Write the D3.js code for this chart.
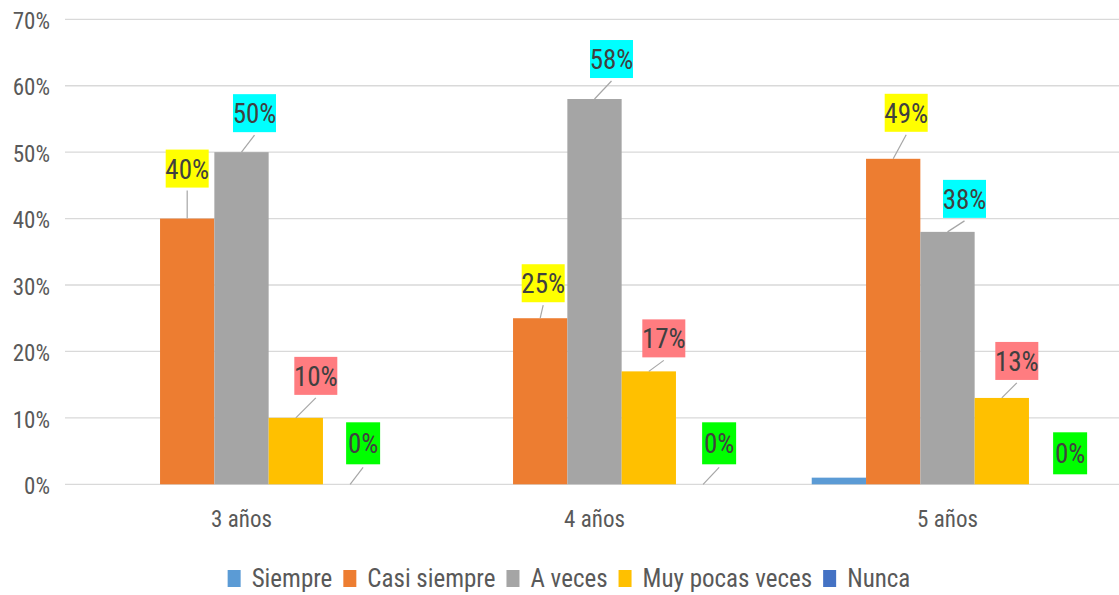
<!DOCTYPE html>
<html>
<head>
<meta charset="utf-8">
<script src="https://cdn.jsdelivr.net/npm/d3@7"></script>
<style>
  body { margin: 0; background: #fff; }
  text { font-family: "Liberation Sans Narrow", "Roboto Condensed", Roboto, sans-serif; }
</style>
</head>
<body>
<div id="chart"></div>
<script>
// data
var categories = ["3 años", "4 años", "5 años"];
var seriesNames = ["Siempre", "Casi siempre", "A veces", "Muy pocas veces", "Nunca"];
var siempre     = [0, 0, 1];
var casiSiempre = [40, 25, 49];
var aVeces      = [50, 58, 38];
var muyPocas    = [10, 17, 13];
var nunca       = [0, 0, 0];
var yTicks = [0, 10, 20, 30, 40, 50, 60, 70];

// which series get a callout label (Siempre has none)
var showLabel = [false, true, true, true, true];

// styles
var barColors   = ["#5B9BD5", "#ED7D31", "#A5A5A5", "#FFC000", "#4472C4"];
var labelFills  = [null, "#FFFF00", "#00FFFF", "#FF7C80", "#00FF00"];

// hand placed callouts: [dx from bar centre, rise of box bottom above bar top]
var labelNudge = [
  [null, [0, 31], [13, 20], [20, 23], [13, 20]],
  [null, [3, 16], [17, 21], [15, 14], [16, 20]],
  [null, [13, 27], [17, 14], [15, 18], [14, 10]]
];

var allSeries = [siempre, casiSiempre, aVeces, muyPocas, nunca];

var W = 1119, H = 595;
var plotLeft = 65, plotRight = 1124, plotTop = 19.3, plotBottom = 484.3;

var svg = d3.select("#chart")
  .append("svg")
    .attr("width", W)
    .attr("height", H);

var x0 = d3.scaleBand()
  .domain(categories)
  .range([plotLeft, plotRight])
  .padding(0);

// gap width of 150% between groups
var groupW = x0.bandwidth() * 5 / 6.5;
var x1 = d3.scaleBand()
  .domain(seriesNames)
  .range([0, groupW])
  .padding(0);

var y = d3.scaleLinear()
  .domain([0, 70])
  .range([plotBottom, plotTop]);

// gridlines
svg.append("g")
  .selectAll("line")
  .data(yTicks)
  .enter()
  .append("line")
    .attr("x1", plotLeft)
    .attr("x2", W)
    .attr("y1", function(d) { return y(d); })
    .attr("y2", function(d) { return y(d); })
    .attr("stroke", "#d9d9d9")
    .attr("stroke-width", 1.3);

// y axis labels
var yAxis = svg.append("g")
  .attr("transform", "translate(50,0)")
  .call(d3.axisLeft(y).tickValues(yTicks).tickSize(0).tickPadding(0)
        .tickFormat(function(d) { return d + "%"; }));
yAxis.select(".domain").remove();
yAxis.selectAll("text")
  .attr("font-family", null)
  .attr("dy", "0.4em")
  .style("font-size", "23px")
  .style("fill", "#595959");

// x axis labels
var xAxis = svg.append("g")
  .attr("transform", "translate(0," + plotBottom + ")")
  .call(d3.axisBottom(x0).tickSize(0).tickPadding(0));
xAxis.select(".domain").remove();
xAxis.selectAll("text")
  .attr("font-family", null)
  .attr("y", 43)
  .attr("dy", 0)
  .style("font-size", "23px")
  .style("fill", "#595959");

// flatten into bar records
var bars = [];
categories.forEach(function(c, ci) {
  seriesNames.forEach(function(s, si) {
    bars.push({ cat: c, ci: ci, series: s, si: si, value: allSeries[si][ci] });
  });
});

function barX(d) { return x0(d.cat) + (x0.bandwidth() - groupW) / 2 + x1(d.series); }
function barCx(d) { return barX(d) + x1.bandwidth() / 2; }

// bars
svg.append("g")
  .selectAll("rect")
  .data(bars)
  .enter()
  .append("rect")
    .attr("x", barX)
    .attr("width", x1.bandwidth())
    .attr("y", function(d) { return y(d.value); })
    .attr("height", function(d) { return y(0) - y(d.value); })
    .attr("fill", function(d) { return barColors[d.si]; });

// callout labels
var labelled = bars.filter(function(d) { return showLabel[d.si]; });
var lab = svg.append("g")
  .selectAll("g")
  .data(labelled)
  .enter()
  .append("g");

lab.each(function(d) {
  var g = d3.select(this);
  var nudge = labelNudge[d.ci][d.si];
  var txt = d.value + "%";
  var bw = txt.length > 2 ? 43 : 34;
  var bh = txt.length > 2 ? 38 : 42;
  var cx = barCx(d) + nudge[0];
  var bottom = y(d.value) - nudge[1];

  if (nudge[1] > 12) {
    g.append("line")
      .attr("x1", cx)
      .attr("y1", bottom + 3)
      .attr("x2", barCx(d))
      .attr("y2", y(d.value))
      .attr("stroke", "#a6a6a6")
      .attr("stroke-width", 1.2);
  }
  g.append("rect")
    .attr("x", cx - bw / 2)
    .attr("y", bottom - bh)
    .attr("width", bw)
    .attr("height", bh)
    .attr("fill", labelFills[d.si]);
  g.append("text")
    .attr("x", cx)
    .attr("y", bottom - bh / 2)
    .attr("dy", "0.37em")
    .attr("text-anchor", "middle")
    .style("font-size", "27px")
    .style("fill", "#404040")
    .text(txt);
});

// legend
var legend = svg.append("g");
var lx = 0;
seriesNames.forEach(function(s, si) {
  var item = legend.append("g").attr("transform", "translate(" + lx + ",0)");
  item.append("rect")
    .attr("x", 0)
    .attr("y", 570)
    .attr("width", 13)
    .attr("height", 17)
    .attr("fill", barColors[si]);
  var t = item.append("text")
    .attr("x", 24)
    .attr("y", 587)
    .style("font-size", "25px")
    .style("fill", "#595959")
    .text(s);
  lx += 24 + t.node().getComputedTextLength() + 11;
});
var legendW = lx - 11;
legend.attr("transform", "translate(" + (569 - legendW / 2) + ",0)");
</script>
</body>
</html>
